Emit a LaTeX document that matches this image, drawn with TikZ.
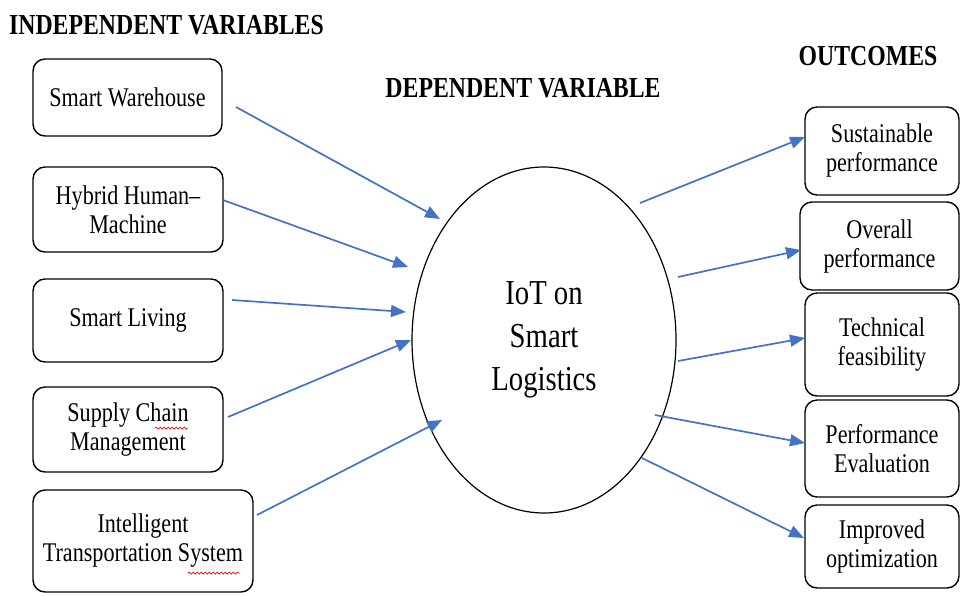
\documentclass[tikz,border=0pt]{standalone}
\usepackage{fontspec}
\setmainfont{Liberation Serif}[FakeStretch=0.82]
\usetikzlibrary{arrows.meta,shapes.geometric,decorations.pathmorphing}
\definecolor{arrblue}{HTML}{4472C4}
\begin{document}
\begin{tikzpicture}[x=1pt,y=-1pt,
  box/.style={draw=black,line width=1.4pt,rounded corners=12pt,align=center,
    inner sep=0pt,font=\fontsize{27}{29}\selectfont},
  title/.style={font=\bfseries\fontsize{29}{32}\selectfont,inner sep=0pt},
  conn/.style={draw=arrblue,line width=1.7pt,-{Triangle[length=15pt,width=12pt]}},
  spell/.style={draw=red,line width=0.7pt,decorate,decoration={snake,amplitude=1pt,segment length=4pt}}]
\useasboundingbox (0,0) rectangle (960,595);
\clip (0,0) rectangle (960,595);

% titles
\node[title] (tind) at (166.5,25) {INDEPENDENT VARIABLES};
\node[title] (tdep) at (523,88) {DEPENDENT VARIABLE};
\node[title] (tout) at (868,56) {OUTCOMES};

% left boxes
\node[box,minimum width=189pt,minimum height=77pt] (sw) at (127.5,97.5) {Smart Warehouse};
\node[box,minimum width=190pt,minimum height=85pt] (hh) at (128,209.5) {Hybrid Human--\\Machine};
\node[box,minimum width=190pt,minimum height=83pt] (sl) at (128,320.5) {Smart Living};
\node[box,minimum width=190pt,minimum height=85pt] (scm) at (128,429.5) {Supply Chain\\Management};
\node[box,minimum width=220pt,minimum height=102pt] (its) at (143,541) {Intelligent\\Transportation System};

% central ellipse
\node[ellipse,draw=black,line width=1.2pt,minimum width=264pt,minimum height=346pt,
  align=center,inner sep=0pt,font=\fontsize{35}{43}\selectfont] (iot) at (544,340) {IoT on\\Smart\\Logistics};

% right boxes
\node[box,minimum width=154pt,minimum height=88pt] (sp) at (882,151) {Sustainable\\performance};
\node[box,minimum width=159pt,minimum height=88pt] (op) at (879.5,246) {Overall\\performance};
\node[box,minimum width=154pt,minimum height=103pt] (tf) at (882,344.5) {Technical\\feasibility};
\node[box,minimum width=154pt,minimum height=97pt] (pe) at (882,448.5) {Performance\\Evaluation};
\node[box,minimum width=154pt,minimum height=83pt] (io) at (882,546.5) {Improved\\optimization};

% connector end points
\coordinate (a1s) at (236,107);  \coordinate (a1e) at (440,219);
\coordinate (a2s) at (223,200);  \coordinate (a2e) at (408,267);
\coordinate (a3s) at (232,300);  \coordinate (a3e) at (406,312);
\coordinate (a4s) at (228,417);  \coordinate (a4e) at (411,340);
\coordinate (a5s) at (257,515);  \coordinate (a5e) at (442,420);
\coordinate (b1s) at (640,203);  \coordinate (b1e) at (805,137);
\coordinate (b2s) at (678,277);  \coordinate (b2e) at (801,250);
\coordinate (b3s) at (678,361);  \coordinate (b3e) at (805,338);
\coordinate (b4s) at (655,415);  \coordinate (b4e) at (805,443);
\coordinate (b5s) at (642,458);  \coordinate (b5e) at (804,538);

\draw[conn] (a1s) -- (a1e);
\draw[conn] (a2s) -- (a2e);
\draw[conn] (a3s) -- (a3e);
\draw[conn] (a4s) -- (a4e);
\draw[conn] (a5s) -- (a5e);
\draw[conn] (b1s) -- (b1e);
\draw[conn] (b2s) -- (b2e);
\draw[conn] (b3s) -- (b3e);
\draw[conn] (b4s) -- (b4e);
\draw[conn] (b5s) -- (b5e);

% spell-check underlines
\coordinate (u1s) at (155,428); \coordinate (u1e) at (188,428);
\coordinate (u2s) at (188,573); \coordinate (u2e) at (240,573);
\draw[spell] (u1s) -- (u1e);
\draw[spell] (u2s) -- (u2e);
\end{tikzpicture}
\end{document}
